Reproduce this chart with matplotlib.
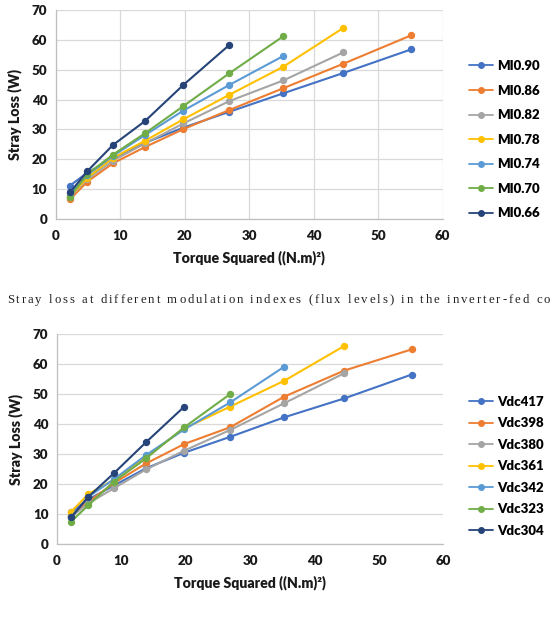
import matplotlib
matplotlib.use("Agg")
import matplotlib.pyplot as plt

# ---------------- data ----------------
x_vals = [2.25, 4.93, 8.86, 13.87, 19.81, 26.94, 35.3, 44.6, 55.1]

mi_labels = ["MI0.90", "MI0.86", "MI0.82", "MI0.78", "MI0.74", "MI0.70", "MI0.66"]
mi_090 = [11.2, 15.5, 20.3, 25.5, 30.6, 35.9, 42.1, 48.9, 56.8]
mi_086 = [6.6, 12.5, 18.6, 24.1, 30.1, 36.5, 43.8, 52.0, 61.5]
mi_082 = [7.5, 13.3, 19.5, 25.3, 32.0, 39.5, 46.4, 55.8]
mi_078 = [7.7, 13.8, 20.4, 26.2, 33.4, 41.6, 51.0, 64.0]
mi_074 = [8.3, 14.7, 21.1, 28.1, 36.3, 44.9, 54.6]
mi_070 = [7.5, 15.0, 21.5, 28.7, 37.8, 48.8, 61.2]
mi_066 = [8.9, 16.0, 24.7, 32.8, 44.9, 58.3]

vdc_labels = ["Vdc417", "Vdc398", "Vdc380", "Vdc361", "Vdc342", "Vdc323", "Vdc304"]
vdc_417 = [10.8, 14.9, 19.5, 25.3, 30.5, 35.8, 42.3, 48.6, 56.6]
vdc_398 = [9.7, 14.1, 20.3, 26.9, 33.4, 39.0, 49.2, 57.9, 65.0]
vdc_380 = [9.1, 13.6, 18.6, 24.9, 31.2, 38.1, 47.0, 57.0]
vdc_361 = [10.8, 16.7, 21.4, 29.2, 38.6, 45.9, 54.5, 66.1]
vdc_342 = [9.1, 15.8, 21.6, 29.7, 38.3, 47.3, 59.2]
vdc_323 = [7.5, 13.0, 20.8, 28.6, 39.0, 50.1]
vdc_304 = [8.9, 15.8, 23.6, 34.0, 45.9]

colors = ["#4472C4", "#ED7D31", "#A5A5A5", "#FFC000", "#5B9BD5", "#70AD47", "#264478"]

xticks = [0, 10, 20, 30, 40, 50, 60]
yticks = [0, 10, 20, 30, 40, 50, 60, 70]
xlabel = "Torque Squared ((N.m)\u00b2)"
ylabel = "Stray Loss (W)"
caption = "Stray loss at different modulation indexes (flux levels) in the inverter-fed co"

# ---------------- figure ----------------
W, H = 551, 618
fig = plt.figure(figsize=(W / 100, H / 100), dpi=100)
FONT = "Lato"
TICK_FS = 9.6
LAB_FS = 10.2


def make_axes(rect, series, labels, vgrid, leg_center_y, leg_spacing):
    ax = fig.add_axes(rect)
    for ys, lab, c in zip(series, labels, colors):
        ax.plot(x_vals[:len(ys)], ys, color=c, lw=1.5, marker="o", ms=4.3,
                label=lab, solid_capstyle="round", zorder=3)
    ax.set_xlim(0, 60)
    ax.set_ylim(0, 70)
    ax.set_xticks(xticks)
    ax.set_yticks(yticks)
    ax.grid(axis="y", color="#D9D9D9", lw=0.9, zorder=0)
    if vgrid:
        ax.grid(axis="x", color="#D9D9D9", lw=0.9, zorder=0)
    for s in ["top", "right"]:
        ax.spines[s].set_visible(False)
    ax.spines["left"].set_color("#BFBFBF")
    ax.spines["bottom"].set_color("#BFBFBF")
    ax.spines["left"].set_linewidth(0.9)
    ax.spines["bottom"].set_linewidth(0.9)
    ax.tick_params(length=0, labelsize=TICK_FS, pad=8)
    ax.tick_params(axis="y", pad=6)
    for t in ax.get_xticklabels() + ax.get_yticklabels():
        t.set_fontweight("heavy")
        t.set_family(FONT)
        t.set_color("#1a1a1a")
    ax.set_xlabel(xlabel, fontsize=LAB_FS, fontweight="heavy", family=FONT,
                  labelpad=6, color="#1a1a1a")
    ax.set_ylabel(ylabel, fontsize=LAB_FS, fontweight="heavy", family=FONT,
                  labelpad=7, color="#1a1a1a")
    leg = fig.legend(handles=ax.get_lines(), labels=labels, loc="center left",
                     bbox_to_anchor=(469 / W, 1 - leg_center_y / H),
                     frameon=False, borderpad=0, borderaxespad=0,
                     handlelength=1.85, handletextpad=0.25,
                     labelspacing=leg_spacing,
                     prop={"family": FONT, "weight": "heavy", "size": 9.5})
    for line in leg.get_lines():
        line.set_markersize(4)
        line.set_linewidth(1.3)
    return ax


make_axes([55.5 / W, 1 - 219 / H, (442.7 - 55.5) / W, (219 - 10) / H],
          [mi_090, mi_086, mi_082, mi_078, mi_074, mi_070, mi_066], mi_labels,
          True, 139.7, 0.95)
make_axes([56.7 / W, 1 - 544 / H, (443.3 - 56.7) / W, (544 - 334.4) / H],
          [vdc_417, vdc_398, vdc_380, vdc_361, vdc_342, vdc_323, vdc_304], vdc_labels,
          False, 466.3, 0.72)

# ---------------- caption (letter-spaced) ----------------
renderer = fig.canvas.get_renderer()
cap_fs = 9.2
cap_y = 1 - 300 / H
x_start, x_end = 7.0, 550.0
widths = []
for ch in caption:
    if ch == " ":
        a = fig.text(0, 0, "a a", fontsize=cap_fs, family="Liberation Serif")
        b = fig.text(0, 0, "aa", fontsize=cap_fs, family="Liberation Serif")
        w = a.get_window_extent(renderer).width - b.get_window_extent(renderer).width
        a.remove(); b.remove()
    else:
        t = fig.text(0, 0, ch, fontsize=cap_fs, family="Liberation Serif")
        w = t.get_window_extent(renderer).width
        t.remove()
    widths.append(w)
extra = (x_end - x_start - sum(widths)) / (len(caption) - 1)
x = x_start
for ch, w in zip(caption, widths):
    if ch != " ":
        fig.text(x / W, cap_y, ch, fontsize=cap_fs, family="Liberation Serif",
                 va="center", ha="left", color="#222222")
    x += w + extra

fig.savefig("out.png", dpi=100)
